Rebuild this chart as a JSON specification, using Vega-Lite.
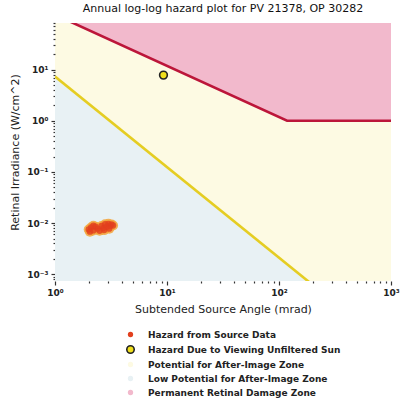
{
  "$schema": "https://vega.github.io/schema/vega-lite/v6.json",
  "width": 336,
  "height": 258,
  "autosize": "none",
  "padding": {"left": 55, "top": 23, "right": 10, "bottom": 123},
  "background": "white",
  "view": {"fill": "#fdfae3", "stroke": null},
  "title": {
    "text": "Annual log-log hazard plot for PV 21378, OP 30282",
    "fontSize": 11,
    "fontWeight": "normal",
    "color": "#111111",
    "anchor": "middle",
    "offset": 5
  },
  "datasets": {
    "burn": [
      {"angle": 1, "irr": 118},
      {"angle": 118, "irr": 1},
      {"angle": 1000, "irr": 1}
    ],
    "flash": [
      {"angle": 1, "irr": 7.33},
      {"angle": 200, "irr": 0.00062}
    ],
    "source": [
      {"angle": 2.0, "irr": 0.0075, "series": "Hazard from Source Data"},
      {"angle": 2.1, "irr": 0.0082, "series": "Hazard from Source Data"},
      {"angle": 2.2, "irr": 0.0072, "series": "Hazard from Source Data"},
      {"angle": 2.3, "irr": 0.0085, "series": "Hazard from Source Data"},
      {"angle": 2.4, "irr": 0.0078, "series": "Hazard from Source Data"},
      {"angle": 2.5, "irr": 0.0071, "series": "Hazard from Source Data"},
      {"angle": 2.2, "irr": 0.0089, "series": "Hazard from Source Data"},
      {"angle": 2.05, "irr": 0.0068, "series": "Hazard from Source Data"},
      {"angle": 2.6, "irr": 0.0088, "series": "Hazard from Source Data"},
      {"angle": 2.7, "irr": 0.0080, "series": "Hazard from Source Data"},
      {"angle": 2.8, "irr": 0.0095, "series": "Hazard from Source Data"},
      {"angle": 2.9, "irr": 0.0085, "series": "Hazard from Source Data"},
      {"angle": 3.0, "irr": 0.0097, "series": "Hazard from Source Data"},
      {"angle": 3.1, "irr": 0.0088, "series": "Hazard from Source Data"},
      {"angle": 3.2, "irr": 0.0094, "series": "Hazard from Source Data"},
      {"angle": 3.3, "irr": 0.0090, "series": "Hazard from Source Data"},
      {"angle": 2.75, "irr": 0.0073, "series": "Hazard from Source Data"},
      {"angle": 3.05, "irr": 0.0078, "series": "Hazard from Source Data"}
    ],
    "sun": [
      {"angle": 9.3, "irr": 7.8, "series": "Hazard Due to Viewing Unfiltered Sun"}
    ]
  },
  "encoding": {
    "x": {
      "field": "angle",
      "type": "quantitative",
      "scale": {"type": "log", "domain": [1, 1000], "nice": false},
      "axis": {
        "title": "Subtended Source Angle (mrad)",
        "values": [1, 2, 3, 4, 5, 6, 7, 8, 9, 10, 20, 30, 40, 50, 60, 70, 80, 90, 100, 200, 300, 400, 500, 600, 700, 800, 900, 1000],
        "labelExpr": "datum.value == 1 ? '10⁰' : datum.value == 10 ? '10¹' : datum.value == 100 ? '10²' : datum.value == 1000 ? '10³' : ''",
        "tickSize": {"condition": {"test": "datum.value == 1 || datum.value == 10 || datum.value == 100 || datum.value == 1000", "value": 4}, "value": 2},
        "labelOverlap": false,
        "labelFlush": false,
        "labelPadding": 3,
        "titlePadding": 6
      }
    },
    "y": {
      "field": "irr",
      "type": "quantitative",
      "scale": {"type": "log", "domain": [0.00074, 81.3], "nice": false},
      "axis": {
        "title": "Retinal Irradiance (W/cm^2)",
        "values": [0.0008, 0.0009, 0.001, 0.002, 0.003, 0.004, 0.005, 0.006, 0.007, 0.008, 0.009, 0.01, 0.02, 0.03, 0.04, 0.05, 0.06, 0.07, 0.08, 0.09, 0.1, 0.2, 0.3, 0.4, 0.5, 0.6, 0.7, 0.8, 0.9, 1, 2, 3, 4, 5, 6, 7, 8, 9, 10, 20, 30, 40, 50, 60, 70, 80],
        "labelExpr": "datum.value == 0.001 ? '10⁻³' : datum.value == 0.01 ? '10⁻²' : datum.value == 0.1 ? '10⁻¹' : datum.value == 1 ? '10⁰' : datum.value == 10 ? '10¹' : ''",
        "tickSize": {"condition": {"test": "datum.value == 0.001 || datum.value == 0.01 || datum.value == 0.1 || datum.value == 1 || datum.value == 10", "value": 4}, "value": 2},
        "labelOverlap": false,
        "labelFlush": false,
        "labelPadding": 3,
        "titlePadding": 6
      }
    }
  },
  "layer": [
    {
      "data": {"name": "flash"},
      "mark": {"type": "area", "clip": true, "opacity": 1},
      "encoding": {
        "y2": {"datum": 0.00074},
        "color": {"datum": "Low Potential for After-Image Zone", "type": "nominal"}
      }
    },
    {
      "data": {"name": "burn"},
      "mark": {"type": "area", "clip": true, "opacity": 1},
      "encoding": {
        "y2": {"datum": 81.3},
        "color": {"datum": "Permanent Retinal Damage Zone", "type": "nominal"}
      }
    },
    {
      "data": {"name": "flash"},
      "mark": {"type": "line", "clip": true, "color": "#e5cd22", "strokeWidth": 2.6},
      "encoding": {}
    },
    {
      "data": {"name": "burn"},
      "mark": {"type": "line", "clip": true, "color": "#bc163a", "strokeWidth": 2.6},
      "encoding": {}
    },
    {
      "data": {"name": "source"},
      "mark": {"type": "point", "filled": true, "size": 100, "color": "#f3a53a", "opacity": 0.85},
      "encoding": {}
    },
    {
      "data": {"name": "source"},
      "mark": {"type": "point", "filled": true, "size": 40, "opacity": 0.8},
      "encoding": {
        "color": {
          "field": "series",
          "type": "nominal",
          "scale": {
            "domain": ["Hazard from Source Data", "Hazard Due to Viewing Unfiltered Sun", "Potential for After-Image Zone", "Low Potential for After-Image Zone", "Permanent Retinal Damage Zone"],
            "range": ["#e2401e", "#f0df1c", "#fdfae3", "#e8f1f4", "#f2b9cc"]
          },
          "legend": {
            "title": null,
            "orient": "none",
            "legendX": 71,
            "legendY": 307,
            "direction": "vertical",
            "symbolType": "circle",
            "symbolSize": {"expr": "datum.value == 'Hazard Due to Viewing Unfiltered Sun' ? 55 : 28"},
            "symbolStrokeColor": {"expr": "datum.value == 'Hazard Due to Viewing Unfiltered Sun' ? '#222222' : 'transparent'"},
            "symbolStrokeWidth": 1.6,
            "symbolOpacity": 1,
            "labelFont": "DejaVu Sans",
            "labelFontSize": 9,
            "labelFontWeight": "bold",
            "labelColor": "#222222",
            "labelOffset": 13,
            "labelLimit": 0,
            "rowPadding": 1
          }
        }
      }
    },
    {
      "data": {"name": "sun"},
      "mark": {"type": "point", "filled": true, "size": 60, "opacity": 1, "stroke": "#222222", "strokeWidth": 1.6},
      "encoding": {
        "color": {"field": "series", "type": "nominal"}
      }
    }
  ],
  "config": {
    "font": "DejaVu Sans",
    "axis": {
      "grid": false,
      "domain": false,
      "tickColor": "#333333",
      "tickWidth": 1.2,
      "labelFont": "DejaVu Sans",
      "labelFontSize": 9,
      "labelFontWeight": "bold",
      "labelColor": "#222222",
      "titleFont": "DejaVu Sans",
      "titleFontSize": 11,
      "titleFontWeight": "normal",
      "titleColor": "#222222"
    }
  }
}
